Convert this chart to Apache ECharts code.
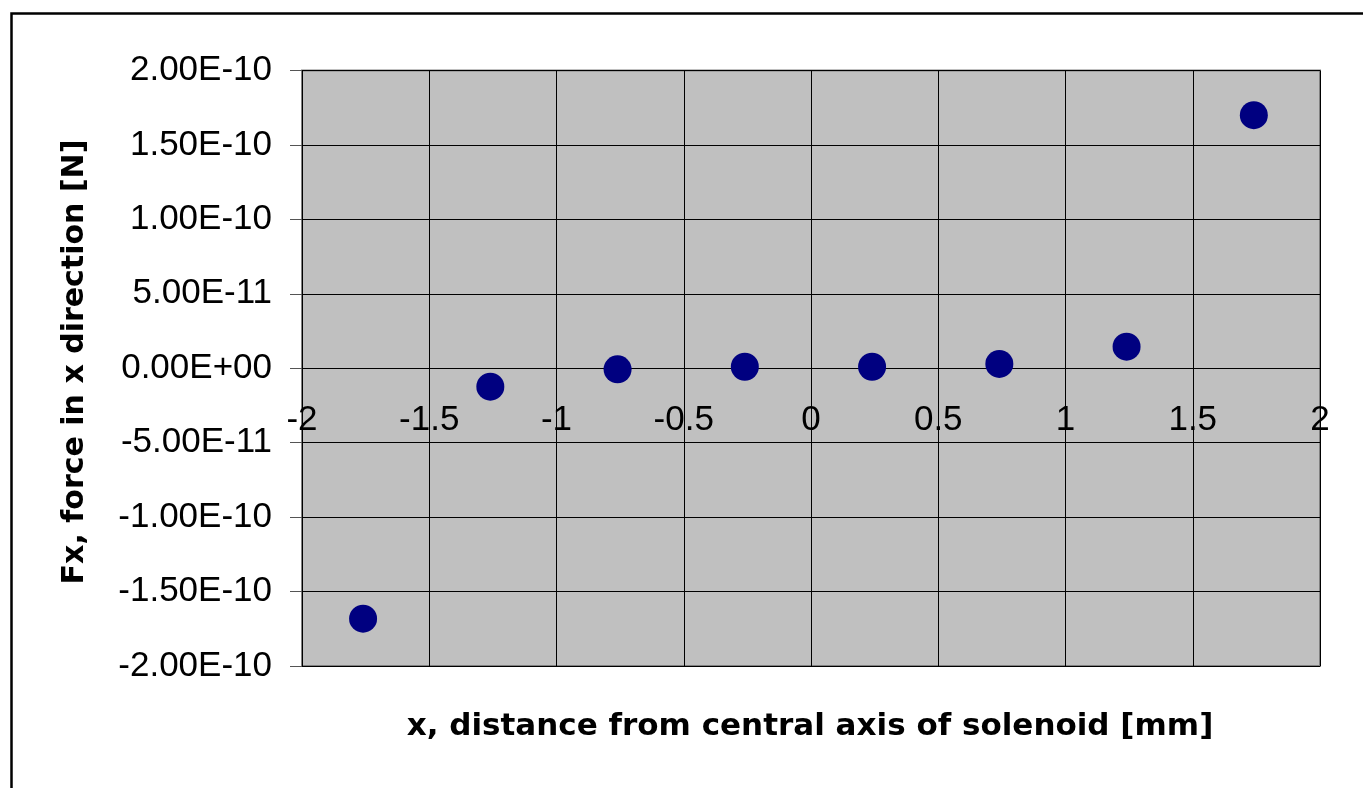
<!DOCTYPE html>
<html>
<head>
<meta charset="utf-8">
<script src="https://cdn.jsdelivr.net/npm/echarts@6/dist/echarts.min.js"></script>
<style>
html,body{margin:0;padding:0;background:#fff;}
#c{width:1363px;height:788px;}
</style>
</head>
<body>
<div id="c"></div>
<script>
const xValues = [-1.76, -1.26, -0.76, -0.26, 0.24, 0.74, 1.24, 1.74];
const fxValues = [-1.682e-10, -1.24e-11, -7e-13, 1.0e-12, 1.0e-12, 2.9e-12, 1.45e-11, 1.70e-10];
const yTickValues = [2e-10, 1.5e-10, 1e-10, 5e-11, 0, -5e-11, -1e-10, -1.5e-10, -2e-10];
const yTickLabels = ['2.00E-10', '1.50E-10', '1.00E-10', '5.00E-11', '0.00E+00', '-5.00E-11', '-1.00E-10', '-1.50E-10', '-2.00E-10'];
const xTitle = 'x, distance from central axis of solenoid [mm]';
const yTitle = 'Fx, force in x direction [N]';

const font = '"Liberation Sans", Arial, sans-serif';
const titleFont = '"DejaVu Sans", Verdana, sans-serif';
function yLabel(v) {
  let best = 0, bd = Infinity;
  yTickValues.forEach((t, i) => { const d = Math.abs(t - v); if (d < bd) { bd = d; best = i; } });
  return yTickLabels[best];
}

const gridBottom = 122, chartH = 788;
const chart = echarts.init(document.getElementById('c'), null, {renderer: 'canvas'});
const option = {
  animation: false,
  backgroundColor: '#ffffff',
  grid: {left: 302, right: 43, top: 70.5, bottom: gridBottom, show: true, backgroundColor: '#c0c0c0', borderColor: '#808080', borderWidth: 2},
  xAxis: {
    type: 'value', min: -2, max: 2, interval: 0.5, offset: 0,
    axisLine: {onZero: false, lineStyle: {color: '#000', width: 1}},
    axisTick: {show: true, inside: false, length: 10, lineStyle: {color: '#000'}},
    axisLabel: {color: '#000', fontFamily: font, fontSize: 35, margin: 35, showMinLabel: true, showMaxLabel: true},
    splitLine: {show: true, lineStyle: {color: '#000', width: 1}}
  },
  yAxis: {
    type: 'value', min: -2e-10, max: 2e-10, interval: 5e-11,
    axisLine: {show: false, onZero: false},
    axisTick: {show: true, length: 12, lineStyle: {color: '#555'}},
    axisLabel: {color: '#000', fontFamily: font, fontSize: 35, margin: 30, formatter: yLabel},
    splitLine: {show: true, lineStyle: {color: '#000', width: 1}}
  },
  series: [{
    type: 'scatter',
    data: xValues.map((x, i) => [x, fxValues[i]]),
    symbol: 'circle', symbolSize: 28,
    itemStyle: {color: '#000080', opacity: 1}
  }],
  graphic: [
    {type: 'rect', left: 9, top: 11, shape: {width: 1400, height: 820}, style: {fill: null, stroke: '#000', lineWidth: 2.5}, z: -1, silent: true},
    {type: 'text', x: 810, y: 727, style: {text: xTitle, font: 'bold 31px ' + titleFont, fill: '#000', textAlign: 'center', textVerticalAlign: 'middle'}},
    {type: 'text', x: 75, y: 362, rotation: Math.PI / 2, style: {text: yTitle, font: 'bold 30px ' + titleFont, fill: '#000', textAlign: 'center', textVerticalAlign: 'middle'}}
  ]
};
chart.setOption(option);
// move the x axis so it crosses the y axis at zero (position from the library's own scale)
const zeroPx = chart.convertToPixel({yAxisIndex: 0}, 0);
const bottomPx = chartH - gridBottom;
chart.setOption({xAxis: {offset: -(bottomPx - zeroPx)}});
</script>
</body>
</html>
